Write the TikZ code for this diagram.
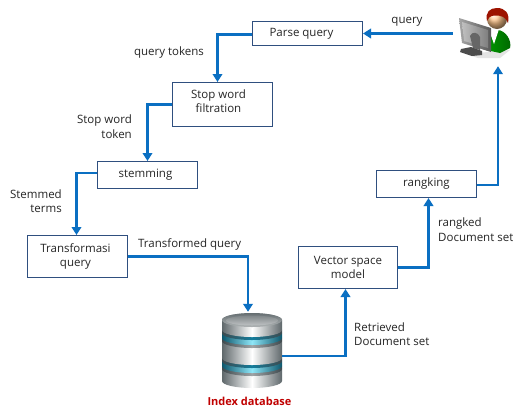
\documentclass[tikz,border=0pt]{standalone}
\usepackage{fontspec}
\setmainfont{Open Sans}
\usetikzlibrary{arrows.meta,calc}
\definecolor{flow}{HTML}{0A6FC2}
\definecolor{boxline}{HTML}{2F4F7F}
\definecolor{txt}{HTML}{262626}
\definecolor{dbred}{HTML}{C00000}
\definecolor{dbgray}{HTML}{5F686B}
\definecolor{dbdark}{HTML}{3F4A4E}
\definecolor{dbblue}{HTML}{137C9B}
\definecolor{dbcyan}{HTML}{8FE6F7}
\tikzset{
  x=1pt,y=-1pt,
  stepbox/.style={draw=boxline,line width=1pt,fill=white,inner sep=0pt,align=center,text=txt,font=\fontsize{11.5}{14.5}\selectfont,anchor=north west},
  lbl/.style={text=txt,font=\fontsize{11.5}{14.5}\selectfont,inner sep=0pt},
  conn/.style={draw=flow,line width=2.6pt,-{Triangle[length=8pt,width=9.5pt]}},
  graybody/.style={left color=dbgray,right color=dbgray,middle color=white},
  bluebody/.style={left color=dbblue!70!black,right color=dbblue!70!black,middle color=dbcyan},
  tealbody/.style={left color=dbdark,right color=dbdark,middle color=dbblue},
  rimbody/.style={left color=dbdark,right color=dbdark,middle color=dbgray!60},
}
\newcommand{\dbband}[3]{% top y, bottom y, style
  \path[#3] (222,#1) -- (222,#2) arc[x radius=30,y radius=7,start angle=180,end angle=0] -- (282,#1)
    arc[x radius=30,y radius=7,start angle=0,end angle=-180] -- cycle;}
\begin{document}
\begin{tikzpicture}
\useasboundingbox (0,0) rectangle (513,408);
\fill[white] (0,0) rectangle (513,408);
% database icon
\dbband{369}{381}{graybody}
\dbband{366}{369}{rimbody}
\dbband{361}{366}{bluebody}
\dbband{358}{361}{tealbody}
\dbband{341}{358}{graybody}
\dbband{338}{341}{rimbody}
\dbband{333}{338}{bluebody}
\dbband{330}{333}{tealbody}
\dbband{320}{330}{graybody}
\path[top color=dbdark!80,bottom color=dbgray!50] (252,320) ellipse[x radius=30,y radius=7];
\path[top color=dbgray!80,bottom color=dbgray!40] (252,320.5) ellipse[x radius=26,y radius=5];
% user icon
\path[fill=black!35,opacity=.3] (466,54) -- (510,50) -- (500,58) -- (478,58) -- cycle;
\path[left color=green!60!black,right color=green!40!black] (486,50) .. controls (487,38) and (490,30) .. (497,30) .. controls (506,30) and (512,41) .. (510,48) -- (500,53) -- cycle;
\path[fill=white] (489,30) -- (499,29) -- (494,44) -- cycle;
\path[ball color=orange!45!white] (497,19) circle[radius=10];
\path[fill=red!55!black!85!orange] (487,21) .. controls (485,12) and (490,8) .. (497,8) .. controls (505,8) and (510,13) .. (508,23) .. controls (506,17) and (501,15) .. (494,15.5) .. controls (490,16) and (488,18) .. (487,21) -- cycle;
\path[left color=black!35,right color=black!65] (459,18) -- (491,28) -- (491,52) -- (462,43) -- cycle;
\path[left color=black!25,right color=black!50] (462,22) -- (488,30) -- (488,48) -- (464,41) -- cycle;
\path[fill=black!60] (470,36) .. controls (472,31) and (478,32) .. (480,37) -- (480,50) -- (473,48) -- cycle;
\path[fill=black!70] (461,49) -- (471,47) -- (482,51) -- (482,55) -- (472,56) -- (460,52) -- cycle;
% nodes
\node[stepbox,minimum width=110pt,minimum height=24pt] (parse) at (252,21) {Parse query\hspace*{12pt}};
\node[stepbox,minimum width=100pt,minimum height=44pt] (stop) at (172,82) {Stop word\hspace*{8pt}\\filtration\hspace*{8pt}\rule[-6.5pt]{0pt}{6.5pt}};
\node[stepbox,minimum width=100pt,minimum height=27pt] (stem) at (97,161) {stemming\hspace*{4pt}};
\node[stepbox,minimum width=100pt,minimum height=42pt] (trans) at (27,235) {Transformasi\hspace*{4pt}\\query\hspace*{4pt}};
\node[stepbox,minimum width=99pt,minimum height=42pt] (vsm) at (298,246) {Vector space\\model};
\node[stepbox,minimum width=100pt,minimum height=27pt] (rank) at (376,170) {rangking};
\node[inner sep=0pt,minimum width=60pt,minimum height=76pt] (db) at (252,350) {};
\node[inner sep=0pt,minimum width=57pt,minimum height=60pt] (user) at (481.5,36) {};
% connectors
\draw[conn] (parse.east -| user.west) -- (parse.east);
\draw[conn] ([yshift=-1pt]parse.west) -| ([xshift=-5pt]stop.north);
\draw[conn] (stop.west) -| (stem.north);
\draw[conn] ([yshift=2pt]stem.west) -| ([xshift=-1pt]trans.north);
\draw[conn] (trans.east) -| ([xshift=-4pt]db.north);
\draw[conn] ([yshift=-6pt]db.east) -| ([xshift=-2.5pt]vsm.south);
\draw[conn] (vsm.east) -| ([xshift=2pt]rank.south);
\draw[conn] ([yshift=-1pt]rank.east) -| ([xshift=16.5pt]user.south);
% labels
\node[lbl,anchor=center] (lq) at (407,22) {query};
\node[lbl,anchor=center] (lt) at (169,53) {query tokens};
\node[lbl,align=right,anchor=north east] (ls) at (132,115) {Stop word\\token};
\node[lbl,align=right,anchor=north east] (lst) at (62,189.5) {Stemmed\\terms};
\node[lbl,anchor=west] (ltq) at (138,244.5) {Transformed query};
\node[lbl,align=left,anchor=north west] (lr) at (438,218) {rangked\\Document set};
\node[lbl,align=left,anchor=north west] (lrd) at (354,322.5) {Retrieved\\Document set};
\node[lbl,anchor=center,text=dbred,font=\fontsize{11}{13}\selectfont\bfseries] (ldb) at (249.5,401) {Index database};
\end{tikzpicture}
\end{document}
